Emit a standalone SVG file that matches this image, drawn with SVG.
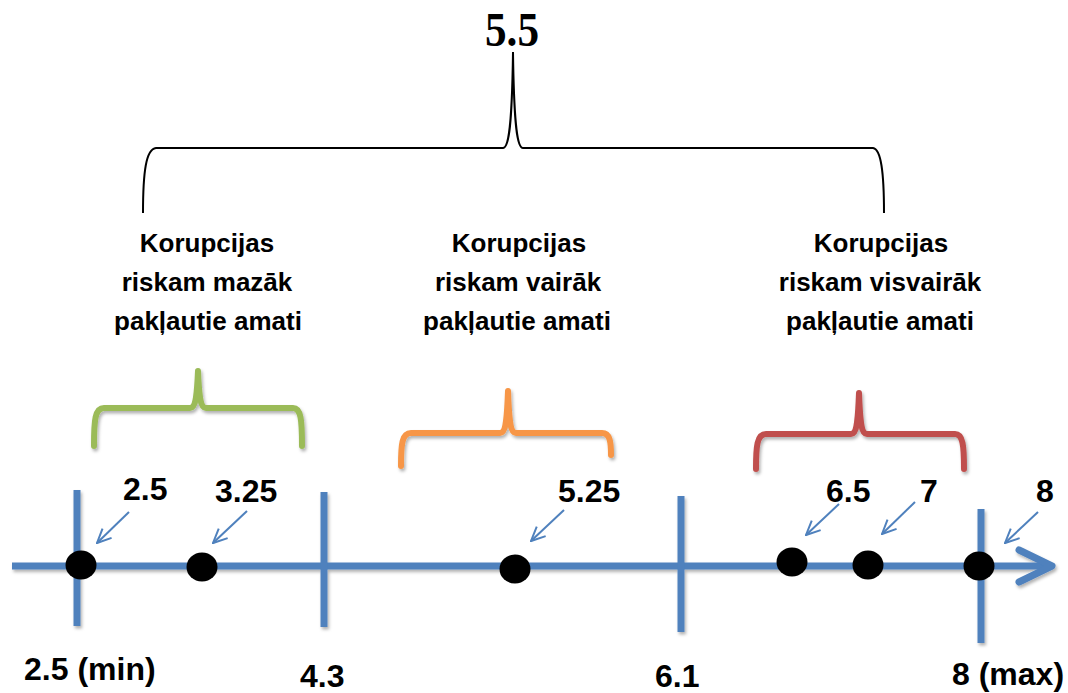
<svg xmlns="http://www.w3.org/2000/svg" width="1068" height="693" viewBox="0 0 1068 693">
<defs>
<filter id="sh" x="-10%" y="-10%" width="130%" height="130%">
<feDropShadow dx="1.5" dy="2.5" stdDeviation="1.5" flood-color="#000" flood-opacity="0.3"/>
</filter>
<marker id="ah" viewBox="0 0 16 16" refX="15" refY="8" markerWidth="16" markerHeight="16" markerUnits="userSpaceOnUse" orient="auto">
<path d="M1,1.5 L15,8 L1,14.5" fill="none" stroke="#4F81BD" stroke-width="2"/>
</marker>
<style>
.ax{stroke:#4F81BD;stroke-width:7;fill:none;}
.tick{stroke:#4F81BD;stroke-width:7;fill:none;}
.ptr{stroke:#4F81BD;stroke-width:2;fill:none;marker-end:url(#ah);}
.dot{fill:#000;}
.num{font-family:"Liberation Sans",Arial,sans-serif;font-weight:bold;font-size:32px;fill:#000;}
.grp{font-family:"Liberation Sans",Arial,sans-serif;font-weight:bold;font-size:26px;fill:#000;text-anchor:middle;}
.br{fill:none;stroke-width:6;stroke-linecap:round;stroke-linejoin:round;}
.top{font-family:"Liberation Serif","Times New Roman",serif;font-weight:bold;font-size:48px;fill:#000;text-anchor:middle;}
</style>
</defs>
<rect width="1068" height="693" fill="#fff"/>

<g id="connectors">
<g filter="url(#sh)">
<line class="ax" x1="12" y1="566" x2="1048" y2="566"/>
<polyline class="ax" points="1019,550 1052,566 1019,582" stroke-linecap="round" stroke-linejoin="round"/>
<line class="tick" x1="77" y1="490" x2="77" y2="626"/>
<line class="tick" x1="324" y1="492" x2="324" y2="627"/>
<line class="tick" x1="681" y1="496" x2="681" y2="632"/>
<line class="tick" x1="981" y1="509" x2="981" y2="643"/>
</g>
<line class="ptr" x1="129" y1="512" x2="97" y2="543"/>
<line class="ptr" x1="247" y1="511" x2="213" y2="543"/>
<line class="ptr" x1="564" y1="510" x2="531" y2="541"/>
<line class="ptr" x1="839" y1="504" x2="806" y2="535"/>
<line class="ptr" x1="915" y1="502" x2="882" y2="534"/>
<line class="ptr" x1="1038" y1="512" x2="1005" y2="543"/>
</g>

<g id="dots">
<ellipse class="dot" cx="81" cy="565" rx="15.5" ry="14.5"/>
<ellipse class="dot" cx="202" cy="567" rx="15.5" ry="14.5"/>
<ellipse class="dot" cx="515" cy="569" rx="15.5" ry="14.5"/>
<ellipse class="dot" cx="792" cy="562" rx="15.5" ry="14.5"/>
<ellipse class="dot" cx="868" cy="565" rx="15.5" ry="14.5"/>
<ellipse class="dot" cx="979" cy="566" rx="15.5" ry="14.5"/>
</g>

<g id="point-labels">
<text class="num" x="123" y="500">2.5</text>
<text class="num" x="215" y="502">3.25</text>
<text class="num" x="558" y="502">5.25</text>
<text class="num" x="826" y="502">6.5</text>
<text class="num" x="920" y="502">7</text>
<text class="num" x="1036" y="502">8</text>
</g>

<g id="axis-labels">
<text class="num" x="24" y="680">2.5 (min)</text>
<text class="num" x="300" y="687">4.3</text>
<text class="num" x="655" y="687">6.1</text>
<text class="num" x="952" y="685">8 (max)</text>
</g>

<g id="top-brace">
<text class="top" x="512" y="46" textLength="54" lengthAdjust="spacingAndGlyphs">5.5</text>
<path d="M143,213 C143,172 146,149 156,148 L503,148 C509,148 512,125 513,52 C514,125 517,148 523,148 L873,148 C881,149 884,172 884,213" fill="none" stroke="#000" stroke-width="2"/>
</g>

<g id="group-low">
<text class="grp" x="207" y="252">Korupcijas</text>
<text class="grp" x="207" y="291">riskam mazāk</text>
<text class="grp" x="208" y="330">pakļautie amati</text>
<path class="br" filter="url(#sh)" stroke="#9BBB59" d="M94,446 C94,420 95,408 104,408 L190,408 C196,408 197,395 198,371 C199,395 200,408 206,408 L293,408 C301,408 302,420 302,446"/>
</g>

<g id="group-mid">
<text class="grp" x="519" y="252">Korupcijas</text>
<text class="grp" x="518" y="291">riskam vairāk</text>
<text class="grp" x="517" y="330">pakļautie amati</text>
<path class="br" filter="url(#sh)" stroke="#F79646" d="M401,466 C401,444 402,433 411,433 L500,433 C506,433 507,420 508,391 C509,420 510,433 516,433 L602,433 C610,433 611,442 611,455"/>
</g>

<g id="group-high">
<text class="grp" x="881" y="252">Korupcijas</text>
<text class="grp" x="880" y="291">riskam visvairāk</text>
<text class="grp" x="880" y="330">pakļautie amati</text>
<path class="br" filter="url(#sh)" stroke="#C0504D" d="M756,469 C756,446 757,434 766,434 L851,434 C857,434 858,421 859,393 C860,421 861,434 867,434 L955,434 C963,434 964,446 964,469"/>
</g>
</svg>
